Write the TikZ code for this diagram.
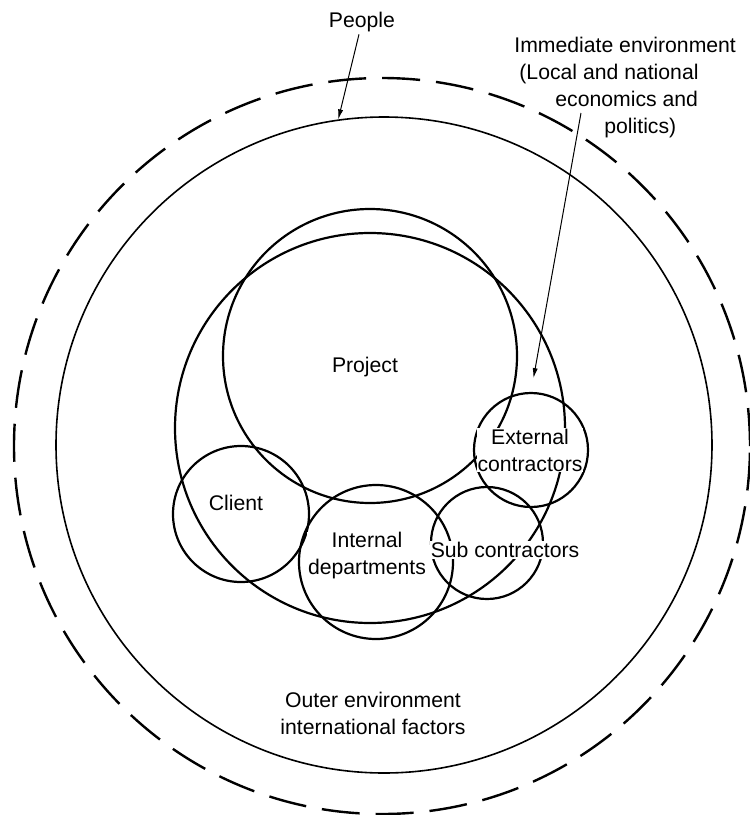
\documentclass[tikz,border=0pt]{standalone}
\usepackage{fontspec}
\setmainfont{Liberation Sans}
\usetikzlibrary{arrows.meta,positioning}

\begin{document}
\begin{tikzpicture}[
    x=0.5pt, y=-0.5pt,
    ring/.style={draw, circle, inner sep=0pt, line width=1.1pt},
    lbl/.style={align=center, font=\fontsize{10.6}{13.5}\selectfont, inner sep=0.5pt, fill=white},
    note/.style={align=left, font=\fontsize{10.6}{13.5}\selectfont, inner sep=1pt},
    arrow/.style={-{Latex[length=5pt,width=2.6pt]}, line width=0.5pt}
]
\useasboundingbox (0,0) rectangle (750,815);

% environment rings
\node[ring, dash pattern=on 19pt off 8pt, line width=1.2pt, minimum size=368pt] (outer) at (382,446) {};
\node[ring, line width=0.8pt, minimum size=328pt] (env) at (384,445) {};

% project and the parties round it
\node[ring, minimum size=195pt] (org) at (370,428) {};
\node[ring, minimum size=147pt] (proj) at (370,356) {};
\node[ring, minimum size=68pt] (client) at (241,514) {};
\node[ring, minimum size=77pt] (internal) at (376,562) {};
\node[ring, minimum size=56pt] (sub) at (487,543) {};
\node[ring, minimum size=57pt] (ext) at (531,450) {};

\node[lbl] (projlbl) at (365,367) {Project};
\node[lbl] (clientlbl) at (236,503) {Client};
\node[lbl] (internallbl) at (367,556) {Internal\\departments};
\node[lbl] (sublbl) at (505,550) {Sub contractors};
\node[lbl] (extlbl) at (530,450) {External\\contractors};
\node[lbl] (outerlbl) at (373,713) {Outer environment\\international factors};

% labels outside
\node[note] (people) at (362,22) {People};
\node[note, anchor=north west] (imm) at (512,35) {Immediate environment\\
    \hspace*{2.5pt}(Local and national\\
    \hspace*{20.5pt}economics and\\
    \hspace*{45pt}politics)};
\coordinate (immtail) at (581,113);

\draw[arrow] (people) -- (env.98);
\draw[arrow, shorten >=7pt] (immtail) -- (ext.north);
\end{tikzpicture}
\end{document}
